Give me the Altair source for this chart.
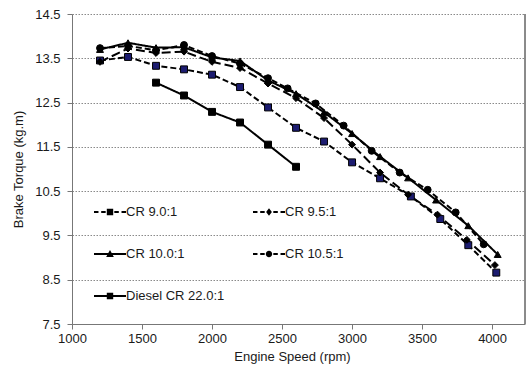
import altair as alt
import pandas as pd

series_names = ["CR 9.0:1", "CR 9.5:1", "CR 10.0:1", "CR 10.5:1", "Diesel CR 22.0:1"]

rpm_cr90 = [1200, 1400, 1600, 1800, 2000, 2200, 2400, 2600, 2800, 3000, 3200, 3420, 3630, 3830, 4030]
tq_cr90 = [13.45, 13.53, 13.33, 13.25, 13.13, 12.85, 12.39, 11.93, 11.62, 11.15, 10.79, 10.38, 9.87, 9.28, 8.66]

rpm_cr95 = [1200, 1400, 1600, 1800, 2000, 2200, 2400, 2600, 2800, 3000, 3200, 3400, 3610, 3820, 4020]
tq_cr95 = [13.42, 13.72, 13.62, 13.65, 13.42, 13.28, 12.93, 12.6, 12.15, 11.55, 10.92, 10.42, 9.97, 9.4, 8.83]

rpm_cr100 = [1200, 1400, 1600, 1800, 2000, 2200, 2400, 2600, 2800, 3000, 3200, 3400, 3600, 3830, 4040]
tq_cr100 = [13.7, 13.85, 13.74, 13.75, 13.52, 13.44, 13.0, 12.7, 12.28, 11.8, 11.28, 10.8, 10.3, 9.72, 9.07]

rpm_cr105 = [1200, 1400, 1600, 1800, 2000, 2200, 2400, 2540, 2740, 2940, 3140, 3340, 3540, 3740, 3940]
tq_cr105 = [13.73, 13.78, 13.68, 13.8, 13.55, 13.38, 13.05, 12.82, 12.48, 11.98, 11.41, 10.92, 10.53, 10.02, 9.3]

rpm_diesel = [1600, 1800, 2000, 2200, 2400, 2600]
tq_diesel = [12.95, 12.66, 12.29, 12.05, 11.55, 11.05]

x_ticks = [1000, 1500, 2000, 2500, 3000, 3500, 4000]
y_ticks = [7.5, 8.5, 9.5, 10.5, 11.5, 12.5, 13.5, 14.5]

rows = []
for name, xs, ys in zip(series_names,
                        [rpm_cr90, rpm_cr95, rpm_cr100, rpm_cr105, rpm_diesel],
                        [tq_cr90, tq_cr95, tq_cr100, tq_cr105, tq_diesel]):
    for x, y in zip(xs, ys):
        rows.append({"series": name, "rpm": x, "torque": y})
df = pd.DataFrame(rows)

FONT = "Liberation Sans"
W, H = 453, 310

x_enc = alt.X("rpm:Q", scale=alt.Scale(domain=[1000, 4235], nice=False, zero=False),
              axis=alt.Axis(values=x_ticks, format="d", title="Engine Speed (rpm)", grid=False,
                            tickSize=5, labelPadding=3, titlePadding=5, titleX=220,
                            domainColor="#777", tickColor="#777", labelFlush=False))
y_enc = alt.Y("torque:Q", scale=alt.Scale(domain=[7.5, 14.5], nice=False, zero=False),
              axis=alt.Axis(values=y_ticks, title="Brake Torque (kg.m)", grid=True,
                            gridDash=[1.5, 1.5], gridColor="#8a8a8a", gridWidth=1,
                            tickSize=5, labelPadding=7, titlePadding=9, format=".1f",
                            domainColor="#777", tickColor="#777"))

dash_range = [[6, 3], [9, 4], [1, 0], [6, 3], [1, 0]]
lines = alt.Chart(df).mark_line(color="black", strokeWidth=2).encode(
    x=x_enc, y=y_enc,
    strokeDash=alt.StrokeDash("series:N", scale=alt.Scale(domain=series_names, range=dash_range), legend=None),
    detail="series:N",
)

fill_range = ["#1c1c70", "black", "black", "black", "black"]
shape_range = ["square", "diamond", "triangle-up", "circle", "square"]
points = alt.Chart(df).mark_point(filled=True, stroke="black", strokeWidth=1, size=48, opacity=1).encode(
    x="rpm:Q", y="torque:Q",
    shape=alt.Shape("series:N", scale=alt.Scale(domain=series_names, range=shape_range), legend=None),
    fill=alt.Fill("series:N", scale=alt.Scale(domain=series_names, range=fill_range), legend=None),
)

# legend glyphs: a line (as thin filled bars) with the series' marker on top
solid = "M-1,-0.065H1V0.065H-1Z"
dashed = ("M-1,-0.065H-0.72V0.065H-1Z M-0.55,-0.065H-0.27V0.065H-0.55Z "
          "M0.27,-0.065H0.55V0.065H0.27Z M0.72,-0.065H1V0.065H0.72Z")
sq = "M-0.2,-0.2H0.2V0.2H-0.2Z"
tri = "M0,-0.25L0.24,0.18H-0.24Z"
circ = "M0.2,0A0.2,0.2,0,1,1,-0.2,0A0.2,0.2,0,1,1,0.2,0Z"
dia = "M0,-0.24L0.18,0L0,0.24L-0.18,0Z"
legend_paths = [dashed + " " + sq, dashed + " " + dia, solid + " " + tri,
                dashed + " " + circ, solid + " " + sq]

leg = alt.Legend(title=None, orient="none", legendX=22, legendY=182,
                 direction="horizontal",
                 columns=2, columnPadding=28, rowPadding=19,
                 symbolSize=1024, symbolStrokeWidth=0,
                 labelOffset=0, padding=0,
                 labelFont=FONT, labelFontSize=13, labelColor="#1a1a1a")

legend_layer = alt.Chart(df).transform_filter("false").mark_point(
    filled=True, fill="black", opacity=1, size=1024
).encode(
    x="rpm:Q", y="torque:Q",
    shape=alt.Shape("series:N", scale=alt.Scale(domain=series_names, range=legend_paths), legend=leg),
)

border = alt.Chart(df).mark_rule(color="#8a8a8a", strokeWidth=1).encode(
    x=alt.value(W), y=alt.value(0), y2=alt.value(H)
)

chart = alt.layer(lines, points, legend_layer, border).resolve_scale(
    shape="independent"
).properties(
    width=W, height=H,
    background="white",
    autosize=alt.AutoSizeParams(type="none"),
    padding={"left": 72, "top": 14, "right": 1, "bottom": 42},
).configure_view(stroke=None).configure_axis(
    labelFont=FONT, labelFontSize=13, labelColor="#1a1a1a",
    titleFont=FONT, titleFontSize=13, titleColor="#1a1a1a", titleFontWeight="normal",
)

chart.save("out.html", embed_options={"renderer": "svg", "actions": False})
